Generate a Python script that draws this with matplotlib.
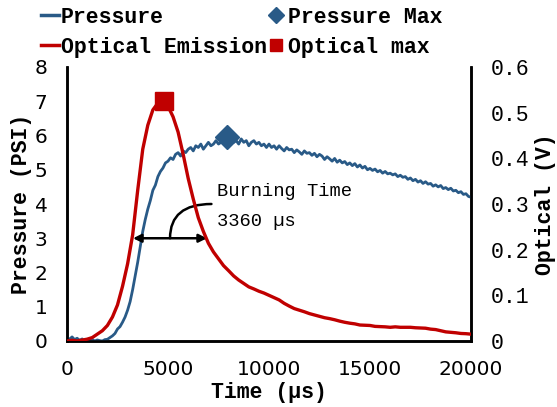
import numpy as np
import matplotlib
matplotlib.use("Agg")
import matplotlib.pyplot as plt
from matplotlib.lines import Line2D

# ---------------- data ----------------
time_pressure_us = list(range(0, 20001, 125))
pressure_psi = [
    0.10, 0.05, 0.12, 0.04, 0.08, 0.02, 0.06, 0.00, 0.05, 0.02, 0.04, 0.00, 0.03, 0.01, 0.00, 0.04, 0.05,
    0.10, 0.15, 0.22, 0.35, 0.42, 0.55, 0.70, 0.90, 1.15, 1.50, 1.90, 2.30, 2.75, 3.20, 3.55, 3.85,
    4.10, 4.40, 4.55, 4.80, 4.95, 5.05, 5.20, 5.25, 5.35, 5.30, 5.45, 5.50, 5.40, 5.55, 5.50, 5.60,
    5.65, 5.55, 5.70, 5.65, 5.75, 5.60, 5.70, 5.80, 5.70, 5.75, 5.85, 5.75, 5.80, 5.90, 5.85, 5.75,
    5.90, 5.80, 5.85, 5.75, 5.90, 5.80, 5.85, 5.70, 5.80, 5.85, 5.75, 5.80, 5.70, 5.75, 5.65, 5.75,
    5.65, 5.70, 5.60, 5.70, 5.62, 5.55, 5.65, 5.58, 5.60, 5.50, 5.58, 5.52, 5.45, 5.55, 5.48, 5.50,
    5.42, 5.48, 5.38, 5.45, 5.40, 5.30, 5.38, 5.32, 5.25, 5.33, 5.22, 5.28, 5.20, 5.24, 5.15, 5.20,
    5.12, 5.18, 5.08, 5.14, 5.05, 5.10, 5.00, 5.04, 4.98, 5.02, 4.94, 4.98, 4.90, 4.95, 4.88, 4.90,
    4.85, 4.88, 4.80, 4.84, 4.78, 4.80, 4.72, 4.76, 4.68, 4.72, 4.64, 4.68, 4.60, 4.65, 4.58, 4.60,
    4.52, 4.56, 4.50, 4.54, 4.45, 4.48, 4.42, 4.46, 4.38, 4.40, 4.33, 4.36, 4.28, 4.30, 4.22, 4.20,
]

time_optical_us = list(range(0, 20001, 250))
optical_v = [
    0.000, 0.0015, 0.000, 0.002, 0.004, 0.0075, 0.015, 0.0225, 0.034, 0.0525,
    0.079, 0.120, 0.169, 0.2325, 0.330, 0.420, 0.4725, 0.506, 0.521, 0.525,
    0.514, 0.491, 0.4575, 0.409, 0.356, 0.311, 0.270, 0.240, 0.214, 0.195,
    0.180, 0.165, 0.154, 0.1425, 0.1335, 0.126, 0.1185, 0.114, 0.109, 0.105,
    0.100, 0.095, 0.090, 0.0825, 0.0765, 0.071, 0.0675, 0.064, 0.060, 0.057,
    0.054, 0.051, 0.049, 0.0465, 0.0435, 0.041, 0.039, 0.0375, 0.035, 0.0345,
    0.034, 0.032, 0.0315, 0.031, 0.030, 0.031, 0.030, 0.030, 0.030, 0.029,
    0.0285, 0.028, 0.026, 0.025, 0.0225, 0.020, 0.019, 0.018, 0.0165, 0.016,
    0.015,
]

pressure_max = (7900, 5.95)
optical_max = (4800, 0.525)
burn_start, burn_end, burn_level = 3270, 6930, 3.0
burn_label = "Burning Time"
burn_value = "3360 µs"

x_ticks = [0, 5000, 10000, 15000, 20000]
left_ticks = [0, 1, 2, 3, 4, 5, 6, 7, 8]
right_ticks = [0, 0.1, 0.2, 0.3, 0.4, 0.5, 0.6]
right_tick_labels = ["0", "0.1", "0.2", "0.3", "0.4", "0.5", "0.6"]

# ---------------- style ----------------
BLUE = "#295A87"
RED = "#C00000"
MONO = "Liberation Mono"
SANS = "DejaVu Sans"

fig = plt.figure(figsize=(5.57, 4.07), dpi=100)
ax = fig.add_axes([67/557, 1-341/407, (471-67)/557, (341-67)/407])
ax2 = ax.twinx()

ax.plot(time_pressure_us, pressure_psi, color=BLUE, lw=2.0, zorder=3)
ax2.plot(time_optical_us, optical_v, color=RED, lw=2.4, zorder=3)
ax.plot([pressure_max[0]], [pressure_max[1]], marker="D", color=BLUE, ms=12, zorder=5, ls="none")
ax2.plot([optical_max[0]], [optical_max[1]], marker="s", color=RED, ms=12.5, zorder=5, ls="none")

ax.set_xlim(0, 20000)
ax.set_ylim(0, 8)
ax2.set_ylim(0, 0.6)
ax.set_xticks(x_ticks)
ax.set_yticks(left_ticks)
ax2.set_yticks(right_ticks)
ax2.set_yticklabels(right_tick_labels)

for a in (ax, ax2):
    for s in a.spines.values():
        s.set_linewidth(1.8)
    a.spines["top"].set_visible(False)
ax.tick_params(axis="both", length=0, labelsize=14.5, pad=14)
ax2.tick_params(axis="y", length=0, pad=14)
for lab in ax.get_xticklabels() + ax.get_yticklabels():
    lab.set_family(SANS)
for lab in ax2.get_yticklabels():
    lab.set_family(MONO)
    lab.set_fontsize(15.5)

ax.set_xlabel("Time (µs)", family=MONO, weight="bold", fontsize=15.5, labelpad=2)
ax.set_ylabel("Pressure (PSI)", family=MONO, weight="bold", fontsize=15.5, labelpad=2)
ax2.set_ylabel("Optical (V)", family=MONO, weight="bold", fontsize=15.5, labelpad=4)

# annotation
ax.annotate("", xy=(burn_start, burn_level), xytext=(burn_end, burn_level),
            arrowprops=dict(arrowstyle="<|-|>", color="black", lw=1.8,
                            mutation_scale=12, shrinkA=0, shrinkB=0), zorder=6)
ax.annotate("", xy=((burn_start + burn_end) / 2, burn_level), xytext=(7150, 4.0),
            arrowprops=dict(arrowstyle="-", color="black", lw=1.8,
                            connectionstyle="angle3,angleA=0,angleB=90",
                            shrinkA=0, shrinkB=0), zorder=6)
ax.text(7450, 4.37, burn_label, family=MONO, fontsize=13.5, va="center", ha="left")
ax.text(7450, 3.5, burn_value, family=MONO, fontsize=13.5, va="center", ha="left")

handles = [
    Line2D([], [], color=BLUE, lw=2.5),
    Line2D([], [], color=RED, lw=2.5),
    Line2D([], [], color=BLUE, marker="D", ls="none", ms=8),
    Line2D([], [], color=RED, marker="s", ls="none", ms=9),
]
labels = ["Pressure", "Optical Emission", "Pressure Max", "Optical max"]
fig.legend(handles, labels, ncol=2, loc="upper left", bbox_to_anchor=(32/557, 1.005),
           frameon=False, handlelength=0.85, handletextpad=0.1, columnspacing=0.0,
           labelspacing=0.42, borderaxespad=0,
           prop=dict(family=MONO, weight="bold", size=15.5))

fig.savefig("out.png", dpi=100)
